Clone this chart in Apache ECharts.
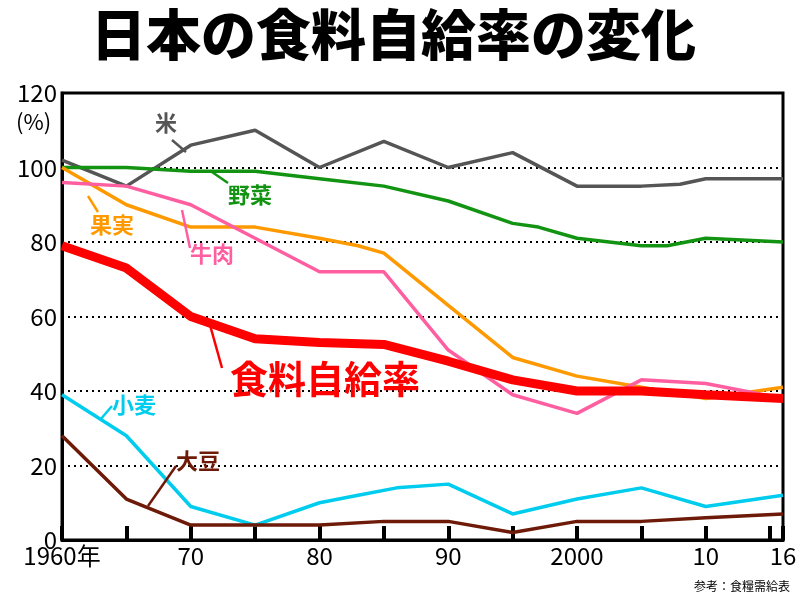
<!DOCTYPE html>
<html>
<head>
<meta charset="utf-8" />
<title>日本の食料自給率の変化</title>
<script src="https://cdn.jsdelivr.net/npm/echarts@6/dist/echarts.min.js"></script>
</head>
<body style="margin:0">
<div id="main" style="width:800px;height:600px;"></div>
<script type="text/javascript">
// 年と品目ごとの自給率（%）
const total   = [[1960,79],[1965,73],[1970,60],[1975,54],[1980,53],[1985,52.5],[1990,48],[1995,43],[2000,40],[2005,40],[2010,39],[2016,38]];
const rice    = [[1960,102],[1965,95],[1970,106],[1975,110],[1980,100],[1985,107],[1990,100],[1995,104],[2000,95],[2005,95],[2008,95.5],[2010,97],[2016,97]];
const veg     = [[1960,100],[1965,100],[1970,99],[1975,99],[1980,97],[1985,95],[1990,91],[1995,85],[1997,84],[2000,81],[2005,79],[2007,79],[2010,81],[2016,80]];
const fruit   = [[1960,100],[1965,90],[1970,84],[1975,84],[1980,81],[1983,79],[1985,77],[1990,63],[1995,49],[2000,44],[2005,41],[2010,38],[2016,41]];
const beef    = [[1960,96],[1965,95],[1970,90],[1975,81],[1980,72],[1985,72],[1990,51],[1995,39],[2000,34],[2005,43],[2010,42],[2016,38]];
const wheat   = [[1960,39],[1965,28],[1970,9],[1975,4],[1980,10],[1983,12],[1986,14],[1990,15],[1995,7],[2000,11],[2005,14],[2010,9],[2016,12]];
const soy     = [[1960,28],[1965,11],[1970,4],[1975,4],[1980,4],[1985,5],[1990,5],[1995,2],[2000,5],[2005,5],[2010,6],[2016,7]];
const xLabels = {1960:'1960年',1970:'70',1980:'80',1990:'90',2000:'2000',2010:'10',2016:'16'};

const font = '"Noto Sans CJK JP", sans-serif';
function line(data, color, width, z) {
  return { type:'line', data:data, symbol:'none', z:z||2, lineStyle:{color:color, width:width||3.5}, xAxisIndex:0 };
}
function tag(text, x, y, color, size, x1, y1, x2, y2) {
  return [
    { type:'text', left:x, top:y, style:{text:text, fill:color, font:'bold '+(size||22)+'px '+font}, z:10 },
    { type:'line', shape:{x1:x1,y1:y1,x2:x2,y2:y2}, style:{stroke:color, lineWidth:2.5}, z:10 }
  ];
}

let myChart = echarts.init(document.getElementById('main'));
myChart.setOption({
  backgroundColor:'#fff',
  animation:false,
  title:{ text:'日本の食料自給率の変化', left:86, top:2,
    textStyle:{ fontFamily:font, fontSize:55, fontWeight:900, color:'#000' } },
  grid:{ left:62, right:17, top:93, bottom:60, show:true, borderColor:'#000', borderWidth:3 },
  xAxis:[
    { type:'value', min:1960, max:2016, interval:5,
      axisLine:{lineStyle:{color:'#000', width:3}},
      axisTick:{inside:true, length:14, lineStyle:{color:'#000', width:4}},
      axisLabel:{show:false}, splitLine:{show:false} },
    { type:'value', min:1960, max:2016, interval:1, position:'bottom',
      axisLine:{show:false}, axisTick:{show:false}, splitLine:{show:false},
      axisLabel:{ showMinLabel:true, showMaxLabel:true, color:'#000', fontSize:24, fontFamily:font, margin:4,
        formatter:v => xLabels[v] || '' } }
  ],
  yAxis:{ type:'value', min:0, max:120, interval:20,
    axisLine:{show:true, lineStyle:{color:'#000', width:3}}, axisTick:{show:false},
    axisLabel:{ color:'#000', fontSize:24, fontFamily:font, margin:5 },
    splitLine:{ lineStyle:{ color:'#000', type:[2,4], width:2 } } },
  series:[
    line(rice, '#555555'),
    line(veg, '#129412'),
    line(fruit, '#ff9900'),
    line(beef, '#ff5fa0'),
    line(wheat, '#00ccee'),
    line(soy, '#6e1a08'),
    line(total, '#ff0000', 9, 5)
  ],
  graphic:[
    { type:'text', left:16, top:111, style:{text:'(%)', fill:'#000', font:'22px '+font} },
    { type:'text', right:10, top:580, style:{text:'参考：食糧需給表', fill:'#000', font:'12px '+font} }
  ].concat(
    tag('米', 155, 112, '#555555', 22, 172, 140, 186, 152),
    tag('野菜', 228, 184, '#129412', 22, 228, 183, 212, 172),
    tag('果実', 90, 214, '#ff9900', 22, 98, 212, 88, 196),
    tag('牛肉', 190, 243, '#ff5fa0', 22, 190, 248, 182, 210),
    tag('食料自給率', 230, 360, '#ff0000', 38, 222, 368, 210, 325),
    tag('小麦', 112, 394, '#00ccee', 22, 112, 406, 100, 420),
    tag('大豆', 176, 450, '#6e1a08', 22, 176, 466, 148, 506)
  )
});
</script>
</body>
</html>
